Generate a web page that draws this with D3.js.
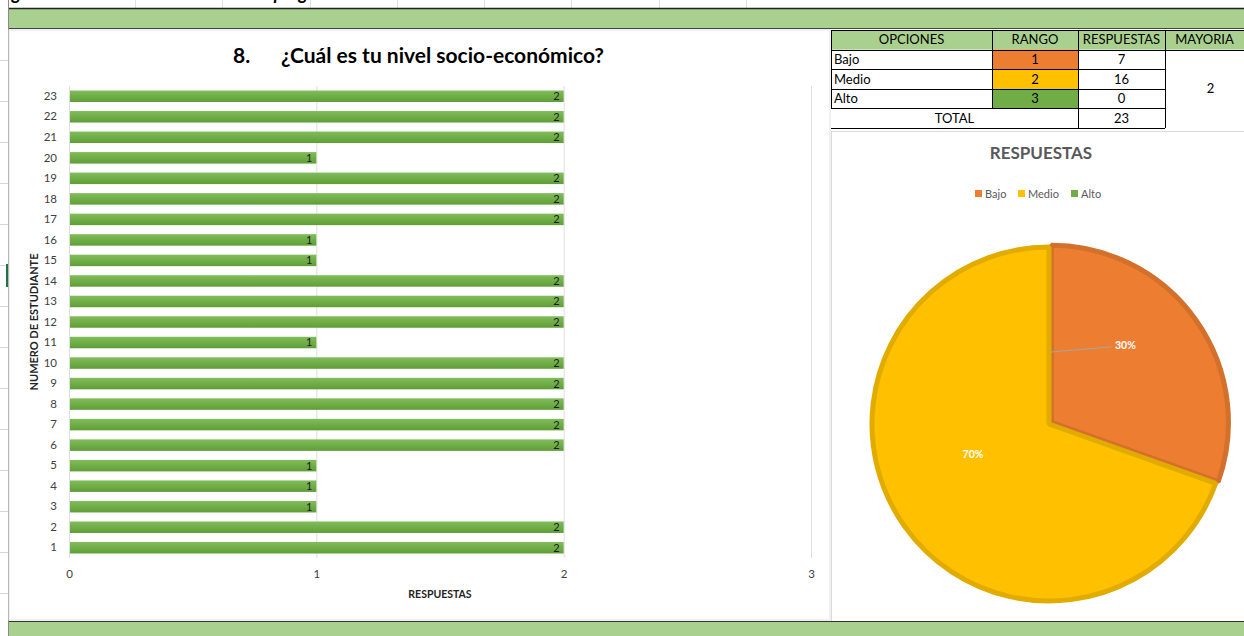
<!DOCTYPE html>
<html>
<head>
<meta charset="utf-8">
<script src="https://cdn.jsdelivr.net/npm/d3@7"></script>
<style>
  html, body { margin: 0; padding: 0; background: #ffffff; }
  svg { display: block; }
  text { font-family: Lato, "Open Sans", "Liberation Sans", sans-serif; }
</style>
</head>
<body>
<svg id="sheet" width="1244" height="636"></svg>
<script>
// ---- data ----
const students = d3.range(1, 24);            // 1..23
const answers = [2, 2, 1, 1, 1, 2, 2, 2, 2, 2, 1, 2, 2, 2, 1, 1, 2, 2, 2, 1, 2, 2, 2];
const xTicks = [0, 1, 2, 3];

const options = ["Bajo", "Medio", "Alto"];
const ranges = [1, 2, 3];
const counts = [7, 16, 0];
const total = 23;
const majority = 2;

const chartTitleNum = "8.";
const chartTitle = "¿Cuál es tu nivel socio-económico?";
const pieTitle = "RESPUESTAS";

// ---- styles ----
const optionColor = { Bajo: "#ed7d31", Medio: "#ffc000", Alto: "#70ad47" };
const optionStroke = { Bajo: "#d2702c", Medio: "#e2ab00", Alto: "#5e9a3a" };
const bandGreen = "#a9d08e";
const textGray = "#595959";

const svg = d3.select("#sheet");

// gradient for bars
const defs = svg.append("defs");
const grad = defs.append("linearGradient").attr("id", "barGrad")
  .attr("x1", 0).attr("y1", 0).attr("x2", 0).attr("y2", 1);
grad.append("stop").attr("offset", "0%").attr("stop-color", "#81bd5b");
grad.append("stop").attr("offset", "100%").attr("stop-color", "#5f9e36");

// ---- spreadsheet frame ----
// caption line above the band (only its lower part is visible)
svg.append("text").attr("x", -2).attr("y", 0)
  .attr("font-family", "'Liberation Serif', 'DejaVu Serif', serif")
  .attr("font-style", "italic").attr("font-weight", "bold")
  .attr("font-size", 18).attr("fill", "#000")
  .text("Figura 8. Resultados obtenidos de la pregunta 8");

// faint cell gridlines in the top strip
[135, 222, 310, 397, 484, 571, 659, 746].forEach(x => {
  svg.append("line").attr("x1", x + 0.5).attr("x2", x + 0.5).attr("y1", 0).attr("y2", 8)
    .attr("stroke", "#e0e0e0");
});

// top green band
svg.append("rect").attr("x", 8).attr("y", 8).attr("width", 1236).attr("height", 21).attr("fill", bandGreen);
svg.append("line").attr("x1", 8).attr("x2", 1244).attr("y1", 8.5).attr("y2", 8.5).attr("stroke", "#222").attr("stroke-width", 1.5);
svg.append("line").attr("x1", 8).attr("x2", 1244).attr("y1", 28.5).attr("y2", 28.5).attr("stroke", "#444").attr("stroke-width", 1.2);

// bottom green band
svg.append("rect").attr("x", 8).attr("y", 621).attr("width", 1236).attr("height", 15).attr("fill", bandGreen);
svg.append("line").attr("x1", 8).attr("x2", 1244).attr("y1", 621.5).attr("y2", 621.5).attr("stroke", "#333").attr("stroke-width", 1.2);

// left column border
svg.append("line").attr("x1", 8.5).attr("x2", 8.5).attr("y1", 0).attr("y2", 636).attr("stroke", "#8a8a8a");
d3.range(60, 620, 41).forEach(y => {
  svg.append("line").attr("x1", 0).attr("x2", 8).attr("y1", y + 0.5).attr("y2", y + 0.5).attr("stroke", "#d6d6d6");
});
svg.append("rect").attr("x", 6).attr("y", 264).attr("width", 2).attr("height", 23).attr("fill", "#217346");

// ---- bar chart area ----
const chartArea = { x: 9, y: 30, w: 821, h: 590 };
svg.append("rect").attr("x", chartArea.x).attr("y", chartArea.y).attr("width", chartArea.w).attr("height", chartArea.h)
  .attr("fill", "#fff").attr("stroke", "#e3e3e3");

svg.append("text").attr("x", 233).attr("y", 63).attr("font-size", 21).attr("font-weight", "bold").attr("fill", "#000").text(chartTitleNum);
svg.append("text").attr("x", 281).attr("y", 63).attr("font-size", 21).attr("font-weight", "bold").attr("fill", "#000").text(chartTitle);

const x = d3.scaleLinear().domain([0, 3]).range([69, 811]);
const y = d3.scaleBand().domain(students.slice().reverse()).range([86, 558]).paddingInner(0.44).paddingOuter(0.22);

// vertical gridlines
const g = svg.append("g");
g.selectAll("line.grid").data(xTicks).join("line").attr("class", "grid")
  .attr("x1", d => x(d) + 0.5).attr("x2", d => x(d) + 0.5)
  .attr("y1", 86).attr("y2", 558)
  .attr("stroke", "#dedede").attr("stroke-width", 1);

// bars
g.selectAll("rect.bar").data(students).join("rect").attr("class", "bar")
  .attr("x", x(0) + 1)
  .attr("y", d => y(d))
  .attr("width", (d, i) => x(answers[i]) - x(0) - 1)
  .attr("height", y.bandwidth())
  .attr("fill", "url(#barGrad)");

// value labels at the inner end of each bar
g.selectAll("text.val").data(students).join("text").attr("class", "val")
  .attr("x", (d, i) => x(answers[i]) - 4)
  .attr("y", d => y(d) + y.bandwidth() / 2)
  .attr("dy", "0.36em").attr("text-anchor", "end")
  .attr("font-size", 11).attr("fill", "#1a1a1a")
  .text((d, i) => answers[i]);

// y axis labels
const yAxis = d3.axisLeft(y).tickSize(0).tickPadding(12);
const yg = svg.append("g").attr("transform", `translate(${x(0)},0)`).call(yAxis);
yg.select(".domain").remove();
yg.selectAll("text").attr("font-size", 11.5).attr("fill", "#404040").attr("font-family", "Lato, 'Open Sans', sans-serif");

// x axis labels
const xAxis = d3.axisBottom(x).tickValues(xTicks).tickSize(0).tickPadding(11).tickFormat(d3.format("d"));
const xg = svg.append("g").attr("transform", "translate(0,559)").call(xAxis);
xg.select(".domain").remove();
xg.selectAll("text").attr("font-size", 11.5).attr("fill", "#404040").attr("font-family", "Lato, 'Open Sans', sans-serif");

svg.append("text").attr("x", 440).attr("y", 598).attr("text-anchor", "middle")
  .attr("font-size", 10.5).attr("font-weight", "bold").attr("fill", "#222").text("RESPUESTAS");
svg.append("text").attr("transform", "translate(38,322) rotate(-90)").attr("text-anchor", "middle")
  .attr("font-size", 11).attr("font-weight", "bold").attr("fill", "#222").text("NUMERO DE ESTUDIANTE");

// ---- summary table ----
const tbl = { x: 831, y: 30, rowH: 19.6, cols: [831, 992, 1078, 1165, 1260] };
const headers = ["OPCIONES", "RANGO", "RESPUESTAS", "MAYORIA"];
const tg = svg.append("g").attr("font-size", 13).attr("fill", "#000");
tg.append("rect").attr("x", tbl.cols[0]).attr("y", tbl.y).attr("width", 1244 - tbl.cols[0]).attr("height", tbl.rowH).attr("fill", bandGreen);
headers.forEach((h, i) => {
  tg.append("text").attr("x", (tbl.cols[i] + Math.min(tbl.cols[i + 1], 1244)) / 2).attr("y", tbl.y + tbl.rowH / 2)
    .attr("dy", "0.36em").attr("text-anchor", "middle").attr("fill", "#000").text(h);
});
options.forEach((o, i) => {
  const ry = tbl.y + tbl.rowH * (i + 1);
  tg.append("rect").attr("x", tbl.cols[1]).attr("y", ry).attr("width", tbl.cols[2] - tbl.cols[1]).attr("height", tbl.rowH)
    .attr("fill", optionColor[o]);
  tg.append("text").attr("x", tbl.cols[0] + 3).attr("y", ry + tbl.rowH / 2).attr("dy", "0.36em").attr("fill", "#000").text(o);
  tg.append("text").attr("x", (tbl.cols[1] + tbl.cols[2]) / 2).attr("y", ry + tbl.rowH / 2).attr("dy", "0.36em")
    .attr("text-anchor", "middle").attr("fill", "#000").text(ranges[i]);
  tg.append("text").attr("x", (tbl.cols[2] + tbl.cols[3]) / 2).attr("y", ry + tbl.rowH / 2).attr("dy", "0.36em")
    .attr("text-anchor", "middle").attr("fill", "#000").text(counts[i]);
});
const totY = tbl.y + tbl.rowH * 4;
tg.append("text").attr("x", (tbl.cols[0] + tbl.cols[2]) / 2).attr("y", totY + tbl.rowH / 2).attr("dy", "0.36em")
  .attr("text-anchor", "middle").attr("fill", "#000").text("TOTAL");
tg.append("text").attr("x", (tbl.cols[2] + tbl.cols[3]) / 2).attr("y", totY + tbl.rowH / 2).attr("dy", "0.36em")
  .attr("text-anchor", "middle").attr("fill", "#000").text(total);
tg.append("text").attr("x", (tbl.cols[3] + 1244) / 2 + 6).attr("y", tbl.y + tbl.rowH * 3).attr("dy", "0.36em")
  .attr("text-anchor", "middle").attr("fill", "#000").text(majority);

// table borders
const bl = (x1, y1, x2, y2) => tg.append("line").attr("x1", x1).attr("y1", y1).attr("x2", x2).attr("y2", y2)
  .attr("stroke", "#000").attr("stroke-width", 1);
for (let r = 0; r <= 5; r++) {
  const yy = Math.round(tbl.y + tbl.rowH * r) + 0.5;
  if (r === 0 || r === 1) bl(tbl.cols[0], yy, 1244, yy);
  else bl(tbl.cols[0], yy, tbl.cols[3], yy);
}
bl(tbl.cols[0] + 0.5, tbl.y, tbl.cols[0] + 0.5, totY);
bl(tbl.cols[1] + 0.5, tbl.y, tbl.cols[1] + 0.5, totY);
bl(tbl.cols[2] + 0.5, tbl.y, tbl.cols[2] + 0.5, tbl.y + tbl.rowH * 5);
bl(tbl.cols[3] + 0.5, tbl.y, tbl.cols[3] + 0.5, tbl.y + tbl.rowH * 5);

// ---- pie chart area ----
svg.append("line").attr("x1", 831).attr("x2", 1244).attr("y1", 131.5).attr("y2", 131.5).attr("stroke", "#d9d9d9");
svg.append("line").attr("x1", 831.5).attr("x2", 831.5).attr("y1", 131).attr("y2", 621).attr("stroke", "#d9d9d9");

svg.append("text").attr("x", 1041).attr("y", 159).attr("text-anchor", "middle")
  .attr("font-size", 17).attr("font-weight", "bold").attr("fill", textGray).text(pieTitle);

// legend
const legendX = [975, 1018, 1071];
const lg = svg.append("g");
options.forEach((o, i) => {
  lg.append("rect").attr("x", legendX[i]).attr("y", 190).attr("width", 7).attr("height", 7).attr("fill", optionColor[o]);
  lg.append("text").attr("x", legendX[i] + 10).attr("y", 194).attr("dy", "0.36em")
    .attr("font-size", 11).attr("fill", textGray).text(o);
});

const cx = 1049, cy = 424, R = 177;
const pie = d3.pie().sort(null).value(d => d.v);
const arcs = pie(options.map((o, i) => ({ o, v: counts[i] })));
const arc = d3.arc().innerRadius(0).outerRadius(R);
const pg = svg.append("g").attr("transform", `translate(${cx},${cy})`);
// the Bajo slice is pulled out a little from the centre
const explode = { Bajo: 3, Medio: 0, Alto: 0 };
pg.selectAll("path").data(arcs.filter(a => a.data.v > 0)).join("path")
  .attr("d", arc)
  .attr("transform", a => {
    const m = (a.startAngle + a.endAngle) / 2, e = explode[a.data.o];
    return `translate(${Math.sin(m) * e},${-Math.cos(m) * e})`;
  })
  .attr("fill", a => optionColor[a.data.o])
  .attr("stroke", a => optionStroke[a.data.o])
  .attr("stroke-width", 5)
  .attr("stroke-linejoin", "bevel");

// percentage labels placed at polar positions inside the slices
const pct = d3.format(".0%");
const labelPos = { Bajo: { ang: 44, r: 110 }, Medio: { ang: 248, r: 82 } };
arcs.filter(a => a.data.v > 0).forEach(a => {
  const p = labelPos[a.data.o];
  const t = p.ang * Math.PI / 180;
  const lx = Math.sin(t) * p.r, ly = -Math.cos(t) * p.r;
  pg.append("text").attr("x", lx).attr("y", ly).attr("dy", "0.36em").attr("text-anchor", "middle")
    .attr("font-size", 10.5).attr("font-weight", "bold").attr("fill", "#fff")
    .text(pct(a.data.v / total));
  if (a.data.o === "Bajo") {
    // leader line back to the slice edge
    pg.append("line").attr("x1", 2).attr("y1", -72).attr("x2", lx - 14).attr("y2", ly + 2)
      .attr("stroke", "#a6a6a6").attr("stroke-width", 1);
  }
});
</script>
</body>
</html>
